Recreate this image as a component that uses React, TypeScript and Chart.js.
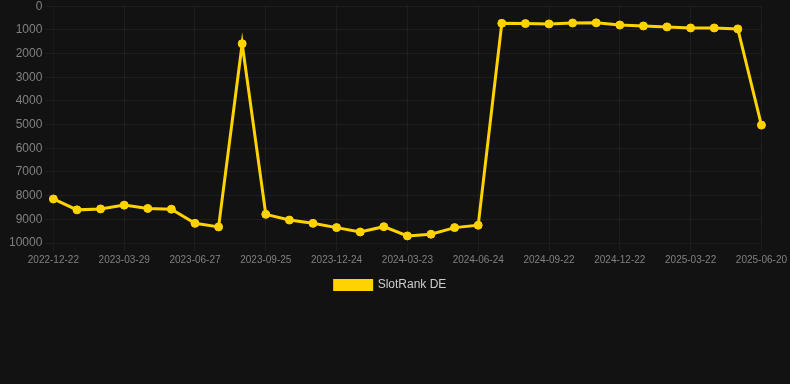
import React, { useEffect, useRef } from "react";
import { Chart, registerables } from "chart.js";

Chart.register(...registerables);

const labels: string[] = [
  "2022-12-22", "2023-01-25", "2023-02-27", "2023-03-29", "2023-04-28", "2023-05-28",
  "2023-06-27", "2023-07-27", "2023-08-26", "2023-09-25", "2023-10-25", "2023-11-24",
  "2023-12-24", "2024-01-23", "2024-02-22", "2024-03-23", "2024-04-24", "2024-05-25",
  "2024-06-24", "2024-07-24", "2024-08-23", "2024-09-22", "2024-10-22", "2024-11-22",
  "2024-12-22", "2025-01-21", "2025-02-20", "2025-03-22", "2025-04-21", "2025-05-21",
  "2025-06-20",
];

const slotRankDE: number[] = [
  8140, 8600, 8560, 8400, 8540, 8570, 9170, 9320, 1580, 8790, 9030, 9170,
  9350, 9535, 9310, 9700, 9630, 9350, 9250, 720, 730, 745, 705, 700,
  790, 830, 870, 915, 915, 955, 5020,
];

const seriesLabel = "SlotRank DE";
const yMin = 0;
const yMax = 10000;

export default function App() {
  const ref = useRef<HTMLCanvasElement | null>(null);

  useEffect(() => {
    document.body.style.margin = "0";
    document.body.style.background = "#121212";
    const canvas = ref.current;
    if (!canvas) return;
    const chart = new Chart(canvas, {
      type: "line",
      data: {
        labels,
        datasets: [
          {
            label: seriesLabel,
            data: slotRankDE,
            borderColor: "#FFD300",
            backgroundColor: "#FFD300",
            borderWidth: 3,
            pointRadius: 4,
            pointBorderWidth: 1,
            pointHoverRadius: 4,
            pointBackgroundColor: "#FFD300",
            pointBorderColor: "#FFD300",
            tension: 0,
          },
        ],
      },
      options: {
        responsive: false,
        animation: false,
        layout: { padding: { top: 0, bottom: 83, left: 6, right: 15 } },
        scales: {
          x: {
            grid: { color: "rgba(255,255,255,0.05)" },
            ticks: {
              color: "#808080",
              font: { size: 10, family: "Liberation Sans, Arial, sans-serif" },
              autoSkip: true,
              maxTicksLimit: 11,
              maxRotation: 0,
            },
          },
          y: {
            reverse: true,
            min: yMin,
            max: yMax,
            grid: { color: "rgba(255,255,255,0.05)" },
            ticks: {
              color: "#808080",
              stepSize: 1000,
              font: { size: 12, family: "Liberation Sans, Arial, sans-serif", lineHeight: 0.55 },
              callback: (v: any) => String(v),
            },
          },
        },
        plugins: {
          legend: {
            position: "bottom",
            labels: {
              color: "#cccccc",
              boxWidth: 37,
              boxHeight: 9,
              font: { size: 12, family: "Liberation Sans, Arial, sans-serif" },
            },
          },
          tooltip: { enabled: false },
        },
      },
    });
    return () => chart.destroy();
  }, []);

  return (
    <div style={{ width: 790, height: 384, background: "#121212" }}>
      <canvas ref={ref} width={790} height={384} style={{ display: "block" }} />
    </div>
  );
}
